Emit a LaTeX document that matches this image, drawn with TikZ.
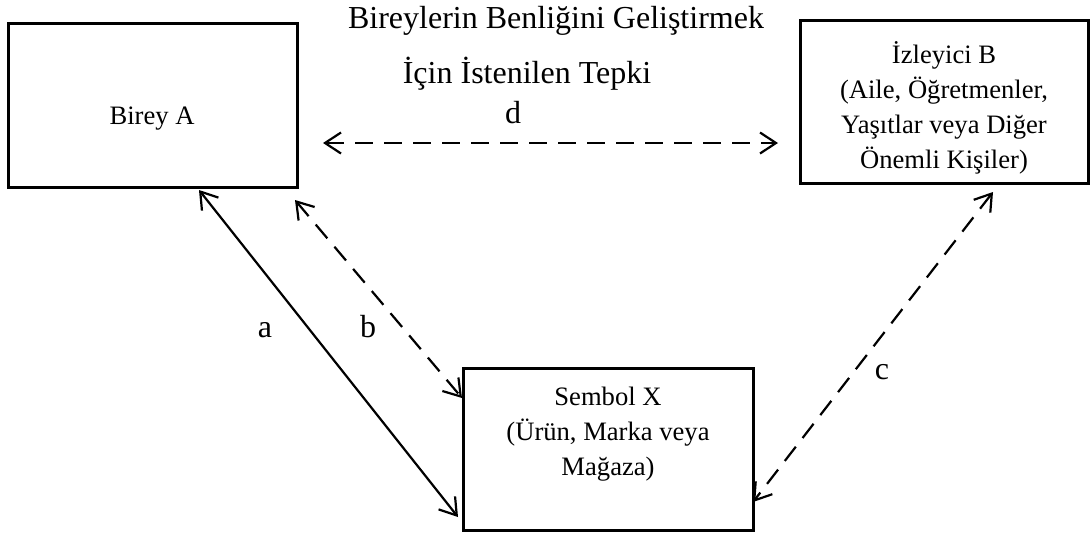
\documentclass[tikz,border=0pt]{standalone}
\usepackage{fontspec}
\setmainfont{Liberation Serif}
\usetikzlibrary{arrows.meta}
\begin{document}
\begin{tikzpicture}[x=0.5pt,y=-0.5pt,
  box/.style={draw,line width=1.5pt,inner sep=0pt},
  txt/.style={align=center,inner sep=0pt,font=\fontsize{13.3}{17.5}\selectfont},
  big/.style={inner sep=0pt,font=\fontsize{16}{20}\selectfont},
  link/.style={line width=1.1pt,{Straight Barb[length=8pt,width=10.5pt]}-{Straight Barb[length=8pt,width=10.5pt]}},
  dsh/.style={dash pattern=on 9pt off 5.5pt}]
\useasboundingbox (0,0) rectangle (1090,536);
% boxes
\node[box,minimum width=144.5pt,minimum height=82pt] (A) at (152.5,105) {};
\node[box,minimum width=144pt,minimum height=81.5pt] (B) at (944,101.5) {};
\node[box,minimum width=145pt,minimum height=81pt] (X) at (608,449) {};
% box texts
\node[txt,anchor=base] (At) at (152,124) {Birey A};
\node[txt] (Bt) at (944,108) {İzleyici B\\(Aile, Öğretmenler,\\Yaşıtlar veya Diğer\\Önemli Kişiler)};
\node[txt] (Xt) at (608,434) {Sembol X\\(Ürün, Marka veya\\Mağaza)};
% title
\node[big,anchor=base] (T1) at (556,28) {Bireylerin Benliğini Geliştirmek};
\node[big,anchor=base] (T2) at (527,83) {İçin İstenilen Tepki};
% connectors
\coordinate (a1) at (199,190); \coordinate (a2) at (458,517);
\coordinate (b1) at (295,200); \coordinate (b2) at (462,398);
\coordinate (c1) at (993,192); \coordinate (c2) at (753,502);
\coordinate (d1) at (323,143); \coordinate (d2) at (778,143);
\draw[link] (a1) -- (a2);
\draw[link,dsh] (b1) -- (b2);
\draw[link,dsh] (c1) -- (c2);
\draw[link,dsh] (d1) -- (d2);
% labels
\node[big,anchor=base] (la) at (265,337) {a};
\node[big,anchor=base] (lb) at (368,337) {b};
\node[big,anchor=base] (lc) at (882,379) {c};
\node[big,anchor=base] (ld) at (513,123) {d};
\end{tikzpicture}
\end{document}
